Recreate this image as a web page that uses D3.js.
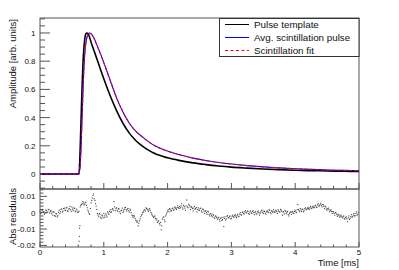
<!DOCTYPE html>
<html><head><meta charset="utf-8">
<script src="https://cdn.jsdelivr.net/npm/d3@7"></script>
<style>body{margin:0;background:#fff}svg{display:block}text{font-family:"Liberation Sans",Arial,sans-serif;fill:#111}</style>
</head><body><svg id="c" width="399" height="270"></svg>
<script>
// ---- data ----
const timeMs = [0, 0.30, 0.60, 0.61, 0.62, 0.64, 0.66, 0.68, 0.70, 0.72, 0.74, 0.76, 0.78, 0.80, 0.85, 0.90, 0.95, 1.00,
  1.10, 1.20, 1.30, 1.40, 1.50, 1.60, 1.70, 1.80, 2.00, 2.20, 2.40, 2.60, 2.80, 3.00, 3.25, 3.50, 3.75, 4.00, 4.25, 4.50, 4.75, 5.00];
const pulseTemplate = [0, 0, 0, 0, 0.06, 0.33, 0.62, 0.84, 0.95, 0.995, 1.0, 0.99, 0.965, 0.935, 0.87, 0.805, 0.74, 0.675,
  0.555, 0.45, 0.36, 0.29, 0.238, 0.200, 0.170, 0.145, 0.115, 0.095, 0.079, 0.067, 0.057, 0.049, 0.042, 0.036, 0.031, 0.027, 0.024, 0.022, 0.020, 0.018];
const avgScintPulse = [0, 0, 0, 0, 0.02, 0.15, 0.40, 0.66, 0.84, 0.93, 0.975, 0.995, 1.0, 0.995, 0.96, 0.905, 0.85, 0.79,
  0.665, 0.54, 0.44, 0.36, 0.305, 0.265, 0.23, 0.20, 0.163, 0.135, 0.113, 0.096, 0.082, 0.071, 0.060, 0.051, 0.044, 0.038, 0.033, 0.029, 0.026, 0.024];
const scintFit = [0, 0, 0, 0, 0.02, 0.15, 0.40, 0.66, 0.84, 0.93, 0.975, 0.995, 1.0, 0.994, 0.958, 0.904, 0.848, 0.788,
  0.664, 0.54, 0.44, 0.361, 0.304, 0.264, 0.229, 0.20, 0.162, 0.135, 0.113, 0.095, 0.082, 0.071, 0.060, 0.051, 0.044, 0.038, 0.033, 0.029, 0.026, 0.024];

// residuals sampled every 0.02 ms (A: starting at 0.00 ms, B: starting at 0.01 ms)
const residStartA = 0, residStartB = 0.01, residStep = 0.02;
const residualsA = [
  .001,.0002,.0018,.0005,-.0003,.0012,.0004,.002,.0008,-.0005,
  -.0015,.0003,-.0022,-.0008,-.0018,.0015,.0006,.0023,.001,.0028,
  .0014,.0032,.0009,.0025,.0018,.0035,.0012,.0026,.0005,.0016,
  .0005,-.0095,.0045,.0055,.006,.0052,.0065,.003,.0005,-.001,
  .006,.009,.0115,.0075,.004,-.0005,-.0025,-.001,-.0035,-.002,
  -.0005,-.003,-.0015,.0005,-.001,.0018,.0005,.0025,.0068,.0012,
  .003,.0008,.0022,-.0005,.0015,.0002,.002,.0032,.001,.0026,
  .0004,.0015,-.0015,-.003,-.0022,-.0045,-.006,-.008,-.005,-.0025,
  -.001,.0005,.0018,.003,.0022,.0008,.0025,0,-.0015,-.003,
  -.002,-.0045,-.006,-.005,-.0075,-.0105,-.004,-.0025,-.0055,-.001,
  .001,.0005,.002,.0012,.0028,.0018,.0035,.002,.0042,.0026,
  .003,.0055,.0022,.0038,.0015,.0078,.003,.0045,.002,.0032,
  .001,.0038,.0025,.0005,.003,.0015,.0028,.0002,.002,-.0005,
  .0012,-.001,.0005,-.002,-.0008,-.0025,-.0015,-.0035,-.0022,-.004,
  -.0028,-.0052,-.003,-.0042,-.0085,-.0025,-.0038,-.0018,-.0032,-.002,
  -.0035,-.0015,-.0028,-.0012,-.003,-.001,-.0022,0,-.0015,.0005,
  -.0008,.0012,-.0002,.0008,-.001,.001,-.0005,.0012,-.0012,.0006,
  -.0008,.001,-.0015,.0003,.0015,-.0005,.0008,-.001,.0012,0,
  .0015,-.0006,.0008,.0018,.0002,.0014,-.0005,.001,.0004,.0016,
  -.0015,.0005,.0015,-.0005,.0008,-.002,.0002,-.001,.0008,-.0005,
  .0015,0,.005,.0012,.0025,.0008,.002,.0012,.003,.0018,
  .0032,.002,.0038,.0025,.004,.003,.0045,.0032,.0055,.0042,
  .0058,.0035,.0048,.0025,.0035,.0015,.0028,.0005,.0018,-.0005,
  .0005,-.0015,-.0002,-.0022,-.001,-.0028,-.0015,-.0032,-.002,-.004,
  -.0025,-.0055,-.002,-.0035,-.0012,-.0025,-.0005,-.0018,.0005,-.001];
const residualsB = [
  -.0005,.0015,.0008,-.001,.0016,0,.0018,-.0002,.0014,.0006,
  .0005,-.0018,-.0005,-.0025,.0002,-.0006,.002,.0004,.0025,.0015,
  .0028,.001,.0022,.0038,.0008,.0022,.003,.001,.0022,.0002,
  .0008,.0035,.005,.0068,.0048,.006,.0045,.0015,-.0005,.0025,
  .0075,.0105,.0085,.0055,.002,-.0015,-.0005,-.0028,-.0015,-.0032,
  -.002,-.0008,-.0025,-.0002,.0008,.0002,.002,.0015,.0035,.0025,
  .0015,.0025,.0005,.0012,.0028,.001,.003,.0018,.0022,.0012,
  .0022,0,-.002,-.0018,-.0035,-.005,-.0052,-.0065,-.0038,-.0015,
  .0002,.0015,.001,.0025,.0015,.002,.0012,-.0008,-.0022,-.0025,
  -.0035,-.0038,-.0052,-.0065,-.006,-.008,-.003,-.0045,-.002,0,
  .0018,.0025,.001,.0025,.0015,.003,.0025,.0032,.003,.0038,
  .0042,.003,.0045,.0028,.0042,.0035,.0052,.0035,.0038,.0025,
  .0028,.002,.0032,.002,.0015,.0025,.001,.0022,.001,.0008,
  0,.0008,-.0012,-.0005,-.0018,-.001,-.0028,-.002,-.003,-.0032,
  -.0042,-.0035,-.0048,-.0028,-.0035,-.0045,-.0022,-.003,-.0025,-.0038,
  -.0022,-.0025,-.0018,-.0022,-.0018,-.0025,-.0008,-.0012,.0002,-.0005,
  .0005,.0002,.001,-.0005,.0005,-.0002,.0008,0,.0002,-.0008,
  .0005,0,-.0003,.0012,.0002,.001,-.0002,.0005,.0006,.0018,
  .0002,.0012,0,.0006,.0012,.0006,.0018,.0005,.002,.0008,
  .0005,-.0008,.0008,.0002,-.0012,-.0006,.0006,.0002,-.0002,.0008,
  .0005,.0018,.002,.0005,.0015,.0022,.0006,.0025,.002,.0025,
  .0025,.003,.0028,.0035,.0032,.0042,.0035,.0048,.004,.005,
  .0045,.005,.0038,.004,.0022,.0025,.0018,.0012,.0008,.0006,
  -.0005,.0002,-.001,-.0015,-.002,-.002,-.0025,-.0025,-.0035,-.003,
  -.0038,-.0032,-.0042,-.0025,-.0028,-.0015,-.002,-.0005,-.0015,.0002];
const spikeTimes = [0.613, 0.617, 0.625];
const spikeValues = [-0.0175, -0.0145, -0.008];

const xTicks = [0, 1, 2, 3, 4, 5];
const topYTicks = [0, 0.2, 0.4, 0.6, 0.8, 1];
const topYLabels = ["0", "0.2", "0.4", "0.6", "0.8", "1"];
const botYTicks = [0.01, 0, -0.01, -0.02];
const botYLabels = ["0.01", "0", "-0.01", "-0.02"];
const legendLabels = ["Pulse template", "Avg. scintillation pulse", "Scintillation fit"];
const seriesColors = ["#000000", "#0000ff", "#ff0000"];

// ---- layout ----
const svg = d3.select("#c");
const L = 40, R = 359, T = 18, MID = 189, B = 247;
const x = d3.scaleLinear().domain([0, 5]).range([L, R]);
const yTop = d3.scaleLinear().domain([-0.106, 1.106]).range([MID, T]);
const yBot = d3.scaleLinear().domain([-0.021, 0.0145]).range([B, MID]);
const axisCol = "#555";

function tickLines(g, vals, fn) {
  g.selectAll(null).data(vals).enter().append("line").each(function(d){ const c = fn(d); d3.select(this).attr("x1",c[0]).attr("y1",c[1]).attr("x2",c[2]).attr("y2",c[3]); })
    .attr("stroke", axisCol).attr("stroke-width", 1);
}
const ax = svg.append("g");
const xMinor = d3.range(0, 5.0001, 0.2);
tickLines(ax, xMinor, d => [x(d), MID, x(d), MID - (Math.abs(d - Math.round(d)) < 1e-6 ? 6 : 3)]);
tickLines(ax, xMinor, d => [x(d), B, x(d), B - (Math.abs(d - Math.round(d)) < 1e-6 ? 5 : 2.5)]);
const yTopMinor = d3.range(-0.1, 1.1001, 0.05);
tickLines(ax, yTopMinor, d => { const m = Math.abs(d*5 - Math.round(d*5)) < 1e-6; return [L, yTop(d), L + (m ? 10 : 5), yTop(d)]; });
const yBotMinor = d3.range(-0.02, 0.01401, 0.002);
tickLines(ax, yBotMinor, d => { const m = Math.abs(d*100 - Math.round(d*100)) < 1e-6; return [L, yBot(d), L + (m ? 7 : 3.5), yBot(d)]; });

// curves
const lineTop = d3.line().x((d, i) => x(timeMs[i])).y(d => yTop(d)).curve(d3.curveMonotoneX);
svg.append("path").attr("d", lineTop(pulseTemplate)).attr("fill", "none").attr("stroke", seriesColors[0]).attr("stroke-width", 1.6);
svg.append("path").attr("d", lineTop(avgScintPulse)).attr("fill", "none").attr("stroke", seriesColors[1]).attr("stroke-width", 1.1);
svg.append("path").attr("d", lineTop(scintFit)).attr("fill", "none").attr("stroke", seriesColors[2]).attr("stroke-width", 1.1).attr("stroke-dasharray", "3,2.5");

// residual points
const pts = residualsA.map((v, i) => [residStartA + i * residStep, v])
  .concat(residualsB.map((v, i) => [residStartB + i * residStep, v]))
  .concat(spikeTimes.map((t, i) => [t, spikeValues[i]]));
svg.append("g").selectAll("rect").data(pts).enter().append("rect")
  .attr("x", d => x(d[0]) - 0.55).attr("y", d => yBot(d[1]) - 0.55).attr("width", 1.1).attr("height", 1.1).attr("fill", "#444");

// frames
svg.append("rect").attr("x", L).attr("y", T).attr("width", R - L).attr("height", MID - T).attr("fill", "none").attr("stroke", axisCol).attr("stroke-width", 1);
svg.append("rect").attr("x", L).attr("y", MID).attr("width", R - L).attr("height", B - MID).attr("fill", "none").attr("stroke", axisCol).attr("stroke-width", 1);

// tick labels
const lab = svg.append("g").style("font-size", "8px");
lab.selectAll(null).data(topYTicks).enter().append("text").attr("x", 35.5).attr("y", d => yTop(d) + 3).attr("text-anchor", "end").text((d, i) => topYLabels[i]);
lab.selectAll(null).data(botYTicks).enter().append("text").attr("x", 35.5).attr("y", d => yBot(d) + 3).attr("text-anchor", "end").text((d, i) => botYLabels[i]);
lab.selectAll(null).data(xTicks).enter().append("text").attr("x", d => x(d)).attr("y", 255).attr("text-anchor", "middle").text(d => d);

// titles
svg.append("text").attr("transform", "translate(15.5,19) rotate(-90)").attr("text-anchor", "end").style("font-size", "9.5px").text("Amplitude [arb. units]");
svg.append("text").attr("transform", "translate(15.5,188) rotate(-90)").attr("text-anchor", "end").style("font-size", "9.5px").text("Abs residuals");
svg.append("text").attr("x", R).attr("y", 266).attr("text-anchor", "end").style("font-size", "9.5px").text("Time [ms]");

// legend
const lg = svg.append("g");
lg.append("rect").attr("x", 219.5).attr("y", 18.5).attr("width", 139.5).attr("height", 38).attr("fill", "#fff").attr("stroke", "#333").attr("stroke-width", 1);
legendLabels.forEach((s, i) => {
  const cy = 24.5 + i * 13;
  const ln = lg.append("line").attr("x1", 225).attr("x2", 249).attr("y1", cy).attr("y2", cy).attr("stroke", seriesColors[i]).attr("stroke-width", 1);
  if (i === 2) ln.attr("stroke-dasharray", "3,2.5");
  lg.append("text").attr("x", 254).attr("y", cy + 3.5).style("font-size", "9.8px").text(s);
});
</script></body></html>
